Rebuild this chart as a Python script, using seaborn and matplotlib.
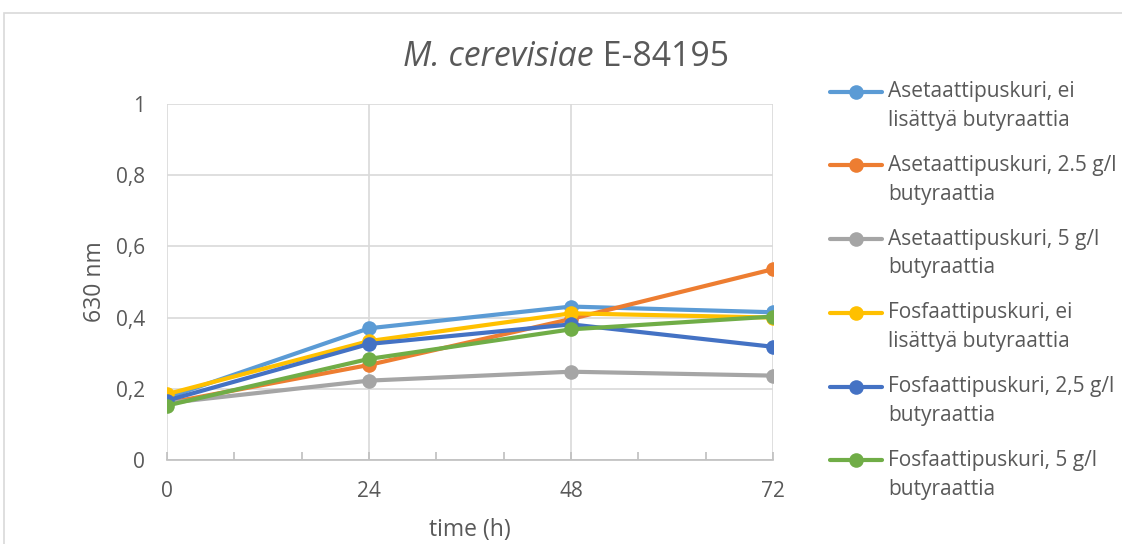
import matplotlib
matplotlib.use("Agg")
import matplotlib.pyplot as plt
import seaborn as sns
import pandas as pd
from matplotlib.ticker import FuncFormatter, MultipleLocator
from matplotlib.patches import Rectangle
from matplotlib.transforms import Affine2D

sns.set_theme(style="white")
plt.rcParams['font.family'] = ['Open Sans', 'DejaVu Sans']

times = [0, 24, 48, 72]
series_names = [
    "Asetaattipuskuri, ei\nlisättyä butyraattia",
    "Asetaattipuskuri, 2.5 g/l\nbutyraattia",
    "Asetaattipuskuri, 5 g/l\nbutyraattia",
    "Fosfaattipuskuri, ei\nlisättyä butyraattia",
    "Fosfaattipuskuri, 2,5 g/l\nbutyraattia",
    "Fosfaattipuskuri, 5 g/l\nbutyraattia",
]
aset_ei = [0.175, 0.370, 0.431, 0.415]
aset_25 = [0.160, 0.267, 0.396, 0.536]
aset_5 = [0.160, 0.223, 0.248, 0.237]
fosf_ei = [0.185, 0.334, 0.412, 0.400]
fosf_25 = [0.167, 0.326, 0.381, 0.318]
fosf_5 = [0.153, 0.284, 0.367, 0.403]
colors = ["#5B9BD5", "#ED7D31", "#A5A5A5", "#FFC000", "#4472C4", "#70AD47"]

all_vals = [aset_ei, aset_25, aset_5, fosf_ei, fosf_25, fosf_5]
rows = []
for name, vals in zip(series_names, all_vals):
    for t, v in zip(times, vals):
        rows.append({"time": t, "value": v, "series": name})
df = pd.DataFrame(rows)

TXT = "#595959"
fig = plt.figure(figsize=(11.22, 5.44), dpi=100)
ax = fig.add_axes([167/1122, (544-460)/544, (773-167)/1122, (460-104)/544])

sns.lineplot(data=df, x="time", y="value", hue="series", hue_order=series_names,
             palette=colors, marker="o", markersize=10.5, markeredgewidth=0,
             linewidth=3, ax=ax, legend=False, sort=False)

ax.set_xlim(0, 72)
ax.set_ylim(0, 1)
ax.set_xticks(times)
ax.xaxis.set_minor_locator(MultipleLocator(8))
ax.set_yticks([0, 0.2, 0.4, 0.6, 0.8, 1.0])
ax.yaxis.set_major_formatter(FuncFormatter(lambda v, p: ("%g" % round(v, 1)).replace(".", ",")))
ax.grid(True, which="major", color="#D9D9D9", linewidth=1.2)
ax.set_axisbelow(True)
for s in ["top", "right", "left"]:
    ax.spines[s].set_visible(False)
ax.spines["bottom"].set_color("#BFBFBF")
ax.spines["bottom"].set_linewidth(1.2)
ax.tick_params(axis="x", which="minor", direction="in", length=6, color="#BFBFBF", width=1.2, bottom=True)
ax.tick_params(axis="x", which="major", direction="in", length=6, color="#BFBFBF", width=1.2, bottom=True,
               labelsize=15, labelcolor=TXT, pad=15)
ax.tick_params(axis="y", which="major", length=0, labelsize=15, labelcolor=TXT, pad=16)

ax.set_xlabel("time (h)", fontsize=16.5, color=TXT, labelpad=12)
ax.set_ylabel("630 nm", fontsize=16.5, color=TXT, labelpad=6)

t1 = fig.text(0, 0, "M. cerevisiae", fontsize=24.3, style="italic", color=TXT, va="center", ha="left")
t2 = fig.text(0, 0, " E-84195", fontsize=24.3, color=TXT, va="center", ha="left")
fig.canvas.draw()
r = fig.canvas.get_renderer()
w1 = t1.get_window_extent(r).width
w2 = t2.get_window_extent(r).width
x0 = 566 - (w1 + w2) / 2
yc = 1 - 57/544
t1.set_position((x0/1122, yc))
t2.set_position(((x0 + w1)/1122, yc))

handles = [plt.Line2D([], [], color=c, marker="o", markersize=10.5, markeredgewidth=0, linewidth=3)
           for c in colors]
leg = fig.legend(handles, series_names, loc="upper left", bbox_to_anchor=(830/1122, 1 - 81/544),
                 frameon=False, fontsize=15, handlelength=2.5, handletextpad=0.3,
                 labelspacing=1.14, labelcolor=TXT, borderaxespad=0, borderpad=0)
for t in leg.get_texts():
    t.set_linespacing(1.5)
for h in leg.legend_handles:
    h.set_transform(h.get_transform() + Affine2D().translate(0, 15))

fig.patches.append(Rectangle((4/1122, -0.05), 1.2, 1 - 13/544 + 0.05, transform=fig.transFigure,
                             fill=False, edgecolor="#D9D9D9", linewidth=1.2))

fig.savefig("out.png", dpi=100)
